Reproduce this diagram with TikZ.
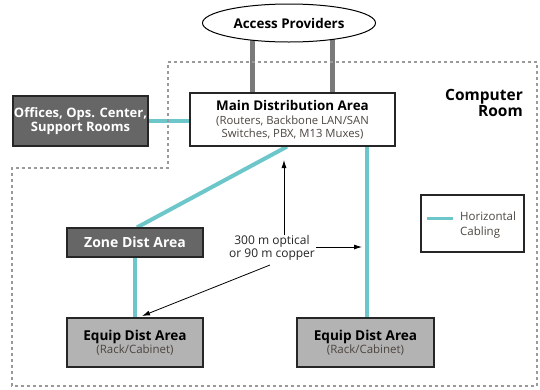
\documentclass[tikz,border=0pt]{standalone}
\usepackage{fontspec}
\setmainfont{Open Sans}
\usetikzlibrary{arrows.meta,backgrounds,shapes.geometric}
\definecolor{cyanline}{HTML}{6CC6CA}
\definecolor{darkbox}{HTML}{666666}
\definecolor{lightbox}{HTML}{B3B3B3}
\definecolor{subtext}{HTML}{4D4540}
\definecolor{dashgray}{HTML}{9A9A9A}
\definecolor{grayline}{HTML}{7A7A7A}
\tikzset{
  boxbase/.style={draw=black!85, line width=1.2pt, inner sep=0pt, align=center},
  darkstyle/.style={boxbase, fill=darkbox, text=white},
  lightstyle/.style={boxbase, fill=lightbox},
  whitestyle/.style={boxbase, fill=white},
  hcable/.style={cyanline, line width=4pt},
  gcable/.style={grayline, line width=5pt},
  roomline/.style={dashgray, line width=1.5pt, dash pattern=on 3pt off 3pt},
  measure/.style={black, line width=0.8pt, -{Latex[length=8pt,width=5pt]}},
}
\begin{document}
\begin{tikzpicture}[x=1pt,y=-1pt]
\useasboundingbox (0,0) rectangle (540,389);
% room outline
\draw[roomline] (168,62) -- (537,62) -- (537,386) -- (12,386) -- (12,168) -- (168,168) -- cycle;

\node[ellipse, draw=black, line width=1pt, fill=white, minimum width=173pt, minimum height=38pt, inner sep=0pt, font=\bfseries\fontsize{13.4}{16}\selectfont] (ap) at (289,23) {Access Providers};
\node[whitestyle, minimum width=205pt, minimum height=53pt, font=\fontsize{11.3}{13}\selectfont] (mda) at (292.5,119.5)
  {{\bfseries\fontsize{13.4}{13}\selectfont Main Distribution Area}\\[1pt]
   {\color{subtext}(Routers, Backbone LAN/SAN}\\
   {\color{subtext}Switches, PBX, M13 Muxes)}};
\node[darkstyle, minimum width=135pt, minimum height=50pt, font=\bfseries\fontsize{13}{14.5}\selectfont] (off) at (80.5,121) {Offices, Ops. Center,\\Support Rooms};
\node[darkstyle, minimum width=136pt, minimum height=29pt, font=\bfseries\fontsize{14}{15}\selectfont] (zda) at (135,242.5) {Zone Dist Area};
\node[lightstyle, minimum width=136pt, minimum height=49pt, font=\fontsize{11.5}{13}\selectfont] (edl) at (135,342.5)
  {{\bfseries\fontsize{13.6}{13}\selectfont Equip Dist Area}\\{\color{subtext}(Rack/Cabinet)}};
\node[lightstyle, minimum width=137pt, minimum height=49pt, font=\fontsize{11.5}{13}\selectfont] (edr) at (365.5,342.5)
  {{\bfseries\fontsize{13.6}{13}\selectfont Equip Dist Area}\\{\color{subtext}(Rack/Cabinet)}};
\node[anchor=north east, align=right, font=\bfseries\fontsize{15.5}{16.5}\selectfont, inner sep=0pt] (room) at (523,89) {Computer\\Room};
\node[draw=black!85, line width=1.2pt, minimum width=103pt, minimum height=57pt, inner sep=0pt] (leg) at (472.5,223.5) {};
\coordinate (lega) at (427,218);
\coordinate (legb) at (453,218);
\node[anchor=west, align=left, inner sep=0pt, font=\fontsize{11.5}{15}\selectfont, text=subtext] (legt) at (460,225) {Horizontal\\Cabling};
\node[align=center, inner sep=1pt, fill=white, font=\fontsize{12}{12.5}\selectfont, text=black!85] (dist) at (272,248) {300 m optical\\or 90 m copper};

\begin{scope}[on background layer]
  \draw[gcable] (ap.center -| 252,0) -- (mda.north -| 252,0);
  \draw[gcable] (ap.center -| 332,0) -- (mda.north -| 332,0);
  \draw[hcable] (off.east) -- (off.east -| mda.west);
  \draw[hcable] (mda.south -| 287,0) -- (zda.north -| 137,0);
  \draw[hcable] (mda.south -| 367,0) -- (edr.north -| 367,0);
  \draw[hcable] (zda.south -| 135,0) -- (edl.north -| 135,0);
\end{scope}
\draw[cyanline, line width=3pt] (lega) -- (legb);

\draw[measure] (dist.north -| 284,0) -- (284,160);
\draw[measure] (dist.east |- 0,247) -- (362,247);
\draw[measure] (270,265) -- (142,316);
\end{tikzpicture}
\end{document}
